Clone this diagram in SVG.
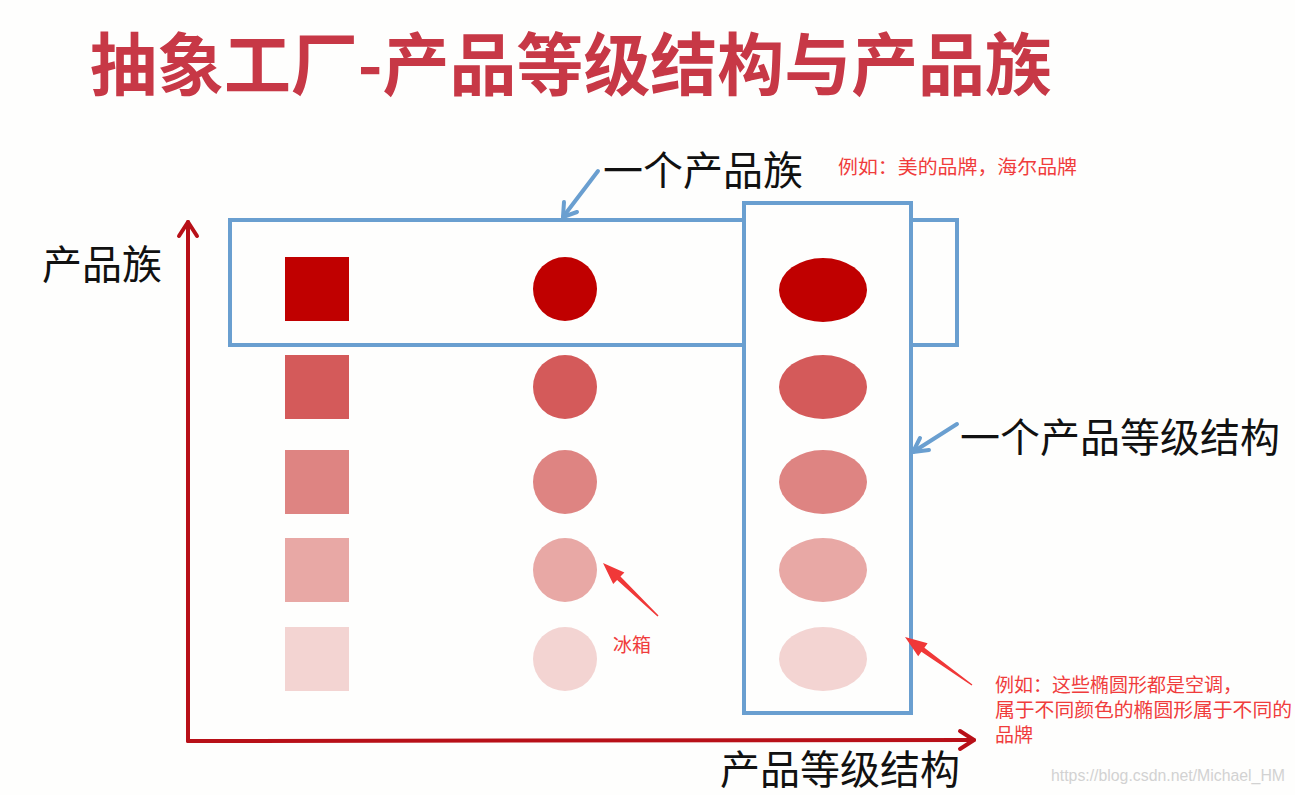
<svg xmlns="http://www.w3.org/2000/svg" width="1295" height="795" viewBox="0 0 1295 795">
<style>
.cjk{font-family:"Noto Sans CJK SC","Noto Sans",sans-serif;}
.lbl{font-size:40px;fill:#111;}
.note{font-size:19px;fill:#F03C3C;}
.box{fill:#FEFEFD;stroke:#6A9FD0;stroke-width:4;}
.axis{fill:none;stroke:#B81018;stroke-width:4;stroke-linecap:round;stroke-linejoin:round;}
.blue{fill:none;stroke:#6A9FD0;stroke-width:4;stroke-linecap:round;stroke-linejoin:round;}
.redarrow{fill:#F03838;}
.c1{fill:#C00000;} .c2{fill:#D45A5A;} .c3{fill:#DE8482;} .c4{fill:#E8A8A5;} .c5{fill:#F3D4D2;}
</style>
<rect x="0" y="0" width="1295" height="795" fill="#FEFEFD"/>
<text id="title" class="cjk" x="90" y="90" font-size="68" font-weight="700" fill="#C73846" textLength="962" lengthAdjust="spacingAndGlyphs">抽象工厂-产品等级结构与产品族</text>

<g id="family-box"><rect class="box" x="230" y="220" width="727" height="125"/></g>
<g id="level-box"><rect class="box" x="744" y="203" width="167" height="510"/></g>

<g id="squares">
<rect class="c1" x="285" y="257" width="64" height="64"/>
<rect class="c2" x="285" y="355" width="64" height="64"/>
<rect class="c3" x="285" y="450" width="64" height="64"/>
<rect class="c4" x="285" y="538" width="64" height="64"/>
<rect class="c5" x="285" y="627" width="64" height="64"/>
</g>
<g id="circles">
<circle class="c1" cx="565" cy="289" r="32"/>
<circle class="c2" cx="565" cy="387" r="32"/>
<circle class="c3" cx="565" cy="482" r="32"/>
<circle class="c4" cx="565" cy="570" r="32"/>
<circle class="c5" cx="565" cy="659" r="32"/>
</g>
<g id="ellipses">
<ellipse class="c1" cx="823" cy="290" rx="44" ry="32"/>
<ellipse class="c2" cx="823" cy="387" rx="44" ry="32"/>
<ellipse class="c3" cx="823" cy="482" rx="44" ry="32"/>
<ellipse class="c4" cx="823" cy="570" rx="44" ry="32"/>
<ellipse class="c5" cx="823" cy="659" rx="44" ry="32"/>
</g>

<g id="connectors">
<polyline class="axis" points="188,741 188,222"/>
<polyline class="axis" points="179,236 188,222 197,236"/>
<polyline class="axis" points="188,741 974,740"/>
<polyline class="axis" points="960,731 974,740 960,749"/>
<line class="blue" x1="598" y1="171" x2="563" y2="217"/>
<polyline class="blue" points="577,212 563,217 564,202"/>
<line class="blue" x1="957" y1="424" x2="913" y2="452"/>
<polyline class="blue" points="929,450 913,452 920,438"/>
<polygon class="redarrow" points="603,563 624.4,572.5 620.5,576.5 658.5,615.5 657.5,616.5 617.1,580.1 613.2,584.1"/>
<polygon class="redarrow" points="905,637 927.6,643.3 924.4,647.8 972.4,684.4 971.6,685.6 921.4,651.8 918.2,656.3"/>
</g>

<g id="label-family-axis"><text class="cjk lbl" x="42" y="279">产品族</text></g>
<g id="label-level-axis"><text class="cjk lbl" x="720" y="784">产品等级结构</text></g>
<g id="label-one-family"><text class="cjk lbl" x="603" y="185">一个产品族</text></g>
<g id="label-one-level"><text class="cjk lbl" x="960" y="452">一个产品等级结构</text></g>
<g id="note-brand"><text class="cjk note" x="838" y="174" textLength="239" lengthAdjust="spacingAndGlyphs">例如：美的品牌，海尔品牌</text></g>
<g id="note-fridge"><text class="cjk note" x="613" y="652">冰箱</text></g>
<g id="note-ac">
<text class="cjk note" x="995" y="692">例如：这些椭圆形都是空调，</text>
<text class="cjk note" x="995" y="717" textLength="297" lengthAdjust="spacingAndGlyphs">属于不同颜色的椭圆形属于不同的</text>
<text class="cjk note" x="995" y="742">品牌</text>
</g>
<text x="1051" y="781" font-family="Liberation Sans, sans-serif" font-size="16" fill="#D2D2D2" textLength="234" lengthAdjust="spacingAndGlyphs">https://blog.csdn.net/Michael_HM</text>
</svg>
